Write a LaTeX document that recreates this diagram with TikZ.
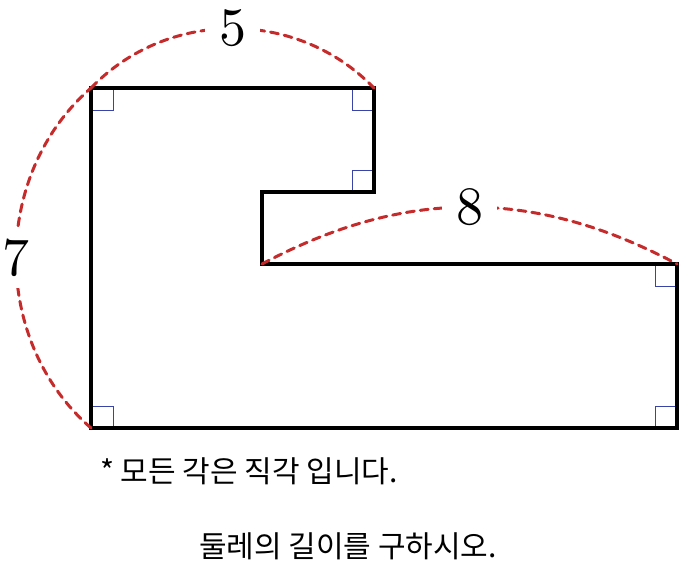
\documentclass[tikz,border=0pt]{standalone}
\usepackage{fontspec}
\usetikzlibrary{calc}
\newfontfamily\krfont{Noto Sans CJK KR}
\newfontfamily\digitfont{lmroman10-regular.otf}
\definecolor{dimred}{HTML}{C62B2B}
\definecolor{markblue}{HTML}{3A44A8}
\begin{document}
\begin{tikzpicture}[x=1pt,y=-1pt,
  edge/.style={line width=3.2pt,black,line join=miter},
  dimarc/.style={dimred,line width=3pt,dash pattern=on 8pt off 6pt,line cap=round},
  dimlabel/.style={fill=white,inner xsep=14pt,inner ysep=11pt,font=\digitfont\fontsize{54}{54}\selectfont},
  rmark/.style={markblue,line width=0.9pt},
  note/.style={font=\krfont\fontsize{30}{30}\selectfont}]
\useasboundingbox (0,0) rectangle (680,563);
\coordinate (A) at (91,88);
\coordinate (B) at (374,88);
\coordinate (C) at (374,192);
\coordinate (D) at (262,192);
\coordinate (E) at (262,264);
\coordinate (F) at (677,264);
\coordinate (G) at (677,428);
\coordinate (H) at (91,428);
% right-angle marks
\draw[rmark] ($(A)+(0,22)$) -- ++(22,0) -- ++(0,-22);
\draw[rmark] ($(B)+(0,22)$) -- ++(-22,0) -- ++(0,-22);
\draw[rmark] ($(C)+(0,-22)$) -- ++(-22,0) -- ++(0,22);
\draw[rmark] ($(F)+(0,22)$) -- ++(-22,0) -- ++(0,-22);
\draw[rmark] ($(G)+(0,-22)$) -- ++(-22,0) -- ++(0,22);
\draw[rmark] ($(H)+(0,-22)$) -- ++(22,0) -- ++(0,22);
% outline
\draw[edge] (A) -- (B) -- (C) -- (D) -- (E) -- (F) -- (G) -- (H) -- cycle;
% dimension arcs
\draw[dimarc] (A) to[bend left=46] node[dimlabel,text=black] (l5) {5} (B);
\draw[dimarc] (H) to[bend left=49] node[dimlabel,text=black] (l7) {7} (A);
\draw[dimarc] (E) to[bend left=28] node[dimlabel,text=black] (l8) {8} (F);
% texts
\node[note] (n1) at (249,471) {* 모든 각은 직각 입니다.};
\node[note] (n2) at (348,546) {둘레의 길이를 구하시오.};
\end{tikzpicture}
\end{document}
